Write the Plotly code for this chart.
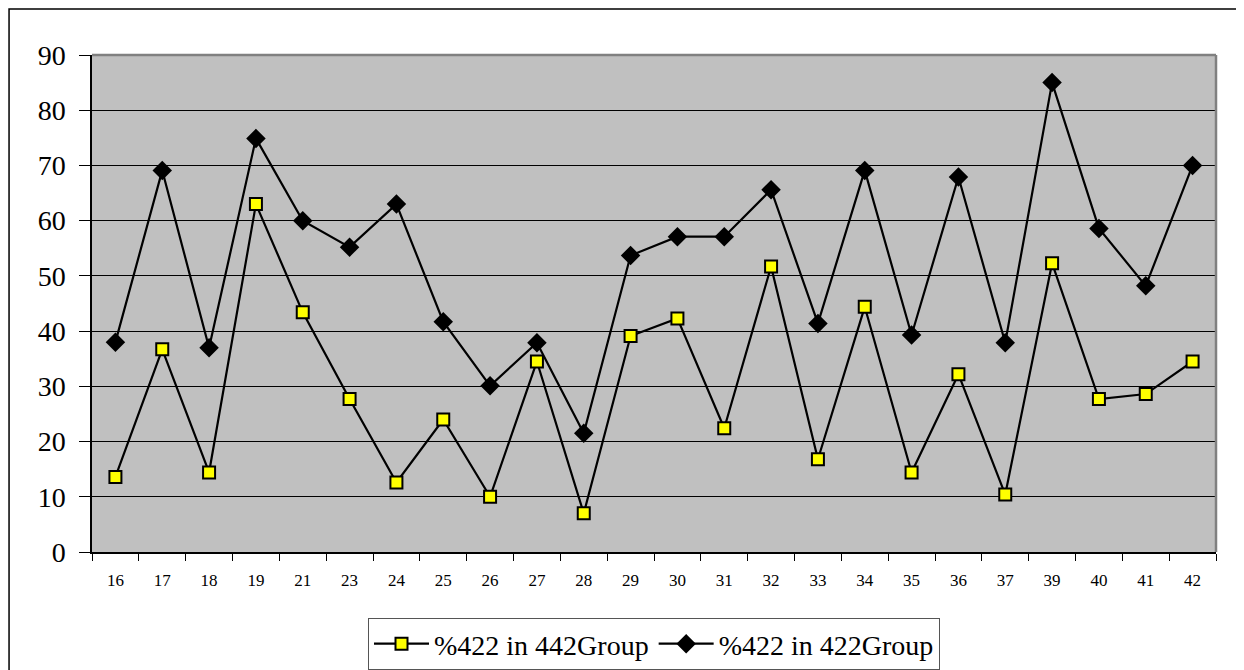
import plotly.graph_objects as go

categories = ["16", "17", "18", "19", "21", "23", "24", "25", "26", "27", "28", "29",
              "30", "31", "32", "33", "34", "35", "36", "37", "39", "40", "41", "42"]
pct_442group = [13.6, 36.7, 14.4, 63.0, 43.4, 27.7, 12.6, 24.0, 10.0, 34.5, 7.0, 39.1,
                42.3, 22.4, 51.7, 16.8, 44.4, 14.4, 32.2, 10.4, 52.3, 27.7, 28.6, 34.5]
pct_422group = [38.0, 69.1, 37.0, 74.9, 60.0, 55.2, 63.0, 41.7, 30.1, 37.9, 21.5, 53.7,
                57.1, 57.1, 65.6, 41.4, 69.1, 39.3, 67.9, 37.9, 85.0, 58.6, 48.2, 70.0]
series_names = ["%422 in 442Group", "%422 in 422Group"]
y_ticks = [0, 10, 20, 30, 40, 50, 60, 70, 80, 90]

serif = "Liberation Serif"

fig = go.Figure()
fig.add_trace(go.Scatter(
    x=categories, y=pct_442group, name=series_names[0], mode="lines+markers",
    line=dict(color="black", width=2.2),
    marker=dict(symbol="square", size=12, color="#FFFF00", line=dict(color="black", width=2)),
))
fig.add_trace(go.Scatter(
    x=categories, y=pct_422group, name=series_names[1], mode="lines+markers",
    line=dict(color="black", width=2.2),
    marker=dict(symbol="diamond", size=15, color="black", line=dict(color="black", width=0)),
))

fig.update_layout(
    template="none",
    width=1236, height=662,
    margin=dict(l=84, r=28, t=47, b=118, autoexpand=False),
    paper_bgcolor="white",
    plot_bgcolor="#C0C0C0",
    showlegend=True,
    font=dict(family=serif, color="black"),
    legend=dict(
        orientation="h", x=0.5, xanchor="center", y=-0.185, yanchor="middle",
        bordercolor="#555555", borderwidth=1, bgcolor="white",
        font=dict(family=serif, size=28, color="black"),
        itemwidth=55,
    ),
    xaxis=dict(
        type="category", range=[-0.5, len(categories) - 0.5],
        tickson="boundaries", ticks="outside", ticklen=7,
        tickcolor="black", tickwidth=1, showline=True, linecolor="black", linewidth=1.5,
        showgrid=False, tickfont=dict(family=serif, size=17, color="black"),
        ticklabelstandoff=12, zeroline=False, automargin=False,
    ),
    yaxis=dict(
        range=[0, 90], tickvals=y_ticks, ticks="outside", ticklen=11,
        tickcolor="black", tickwidth=1, showline=True, linecolor="black", linewidth=1.5,
        showgrid=True, gridcolor="black", gridwidth=1,
        tickfont=dict(family=serif, size=28, color="black"),
        ticklabelstandoff=8, zeroline=False, automargin=False,
    ),
    shapes=[
        dict(type="line", xref="paper", yref="paper", x0=0, x1=1, y0=1, y1=1,
             line=dict(color="#808080", width=2.5), layer="above"),
        dict(type="line", xref="paper", yref="paper", x0=1, x1=1, y0=0, y1=1,
             line=dict(color="#808080", width=2.5), layer="above"),
        dict(type="rect", xref="paper", yref="paper", x0=-0.0738, x1=1.0205,
             y0=-0.26, y1=1.0926, line=dict(color="black", width=1.5), layer="below"),
    ],
)

fig.write_html("out.html")
